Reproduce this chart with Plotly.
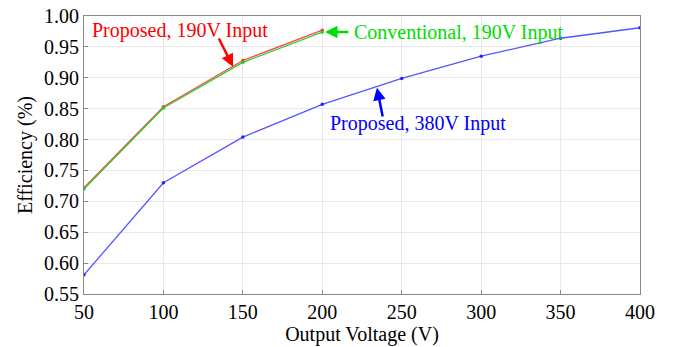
import plotly.graph_objects as go

voltage_190 = [50, 100, 150, 200]
eff_proposed_190 = [0.722, 0.853, 0.928, 0.977]
eff_conventional_190 = [0.720, 0.851, 0.925, 0.974]
voltage_380 = [50, 100, 150, 200, 250, 300, 350, 400]
eff_proposed_380 = [0.581, 0.730, 0.804, 0.857, 0.899, 0.935, 0.964, 0.981]

FONT = "Liberation Serif, Times New Roman, serif"
FS = 20

fig = go.Figure()
fig.add_trace(go.Scatter(x=voltage_380, y=eff_proposed_380, mode="lines+markers",
                         line=dict(color="#5555ff", width=1.3), marker=dict(size=3.5, color="#2222ff")))
fig.add_trace(go.Scatter(x=voltage_190, y=eff_proposed_190, mode="lines+markers",
                         line=dict(color="#ff4444", width=1.3), marker=dict(size=3.5, color="#ff3333")))
fig.add_trace(go.Scatter(x=voltage_190, y=eff_conventional_190, mode="lines+markers",
                         line=dict(color="#33cc33", width=1.3), marker=dict(size=3.5, color="#22cc22")))

axis_common = dict(showline=True, linecolor="#888888", linewidth=1, mirror=True,
                   showgrid=True, gridcolor="#e8e8e8", gridwidth=1,
                   ticks="inside", ticklen=4, tickcolor="#888888", automargin=False,
                   tickfont=dict(family=FONT, size=FS, color="black"), zeroline=False)

fig.update_xaxes(range=[50, 400], tickvals=[50, 100, 150, 200, 250, 300, 350, 400],
                 title=dict(text="Output Voltage (V)", font=dict(family=FONT, size=FS, color="black"), standoff=2),
                 **axis_common)
fig.update_yaxes(range=[0.55, 1.00], tickvals=[0.55, 0.60, 0.65, 0.70, 0.75, 0.80, 0.85, 0.90, 0.95, 1.00],
                 tickformat=".2f",
                 title=dict(text="Efficiency (%)", font=dict(family=FONT, size=FS, color="black"), standoff=6),
                 **axis_common)

anns = [
    dict(x=143.8, y=0.918, ax=134.4, ay=0.966, color="red"),
    dict(x=201.7, y=0.974, ax=217.4, ay=0.974, color="#00dd00"),
    dict(x=234.4, y=0.884, ax=238.2, ay=0.835, color="blue"),
]
for a in anns:
    fig.add_annotation(x=a["x"], y=a["y"], ax=a["ax"], ay=a["ay"], xref="x", yref="y",
                       axref="x", ayref="y", text="", showarrow=True, arrowhead=2,
                       arrowsize=1, arrowwidth=2.5, arrowcolor=a["color"])

fig.add_annotation(x=110.4, y=0.977, xref="x", yref="y", text="Proposed, 190V Input", showarrow=False,
                   font=dict(family=FONT, size=FS, color="red"), xanchor="center", yanchor="middle")
fig.add_annotation(x=218.7, y=0.974, xref="x", yref="y", text="Conventional, 190V Input", showarrow=False,
                   font=dict(family=FONT, size=FS, color="#00dd00"), xanchor="left", yanchor="middle")
fig.add_annotation(x=203.6, y=0.826, xref="x", yref="y", text="Proposed, 380V Input", showarrow=False,
                   font=dict(family=FONT, size=FS, color="blue"), xanchor="left", yanchor="middle")

fig.update_layout(width=681, height=347, margin=dict(l=84, r=41, t=16, b=53),
                  plot_bgcolor="white", paper_bgcolor="white", showlegend=False)

fig.write_html("out.html")
